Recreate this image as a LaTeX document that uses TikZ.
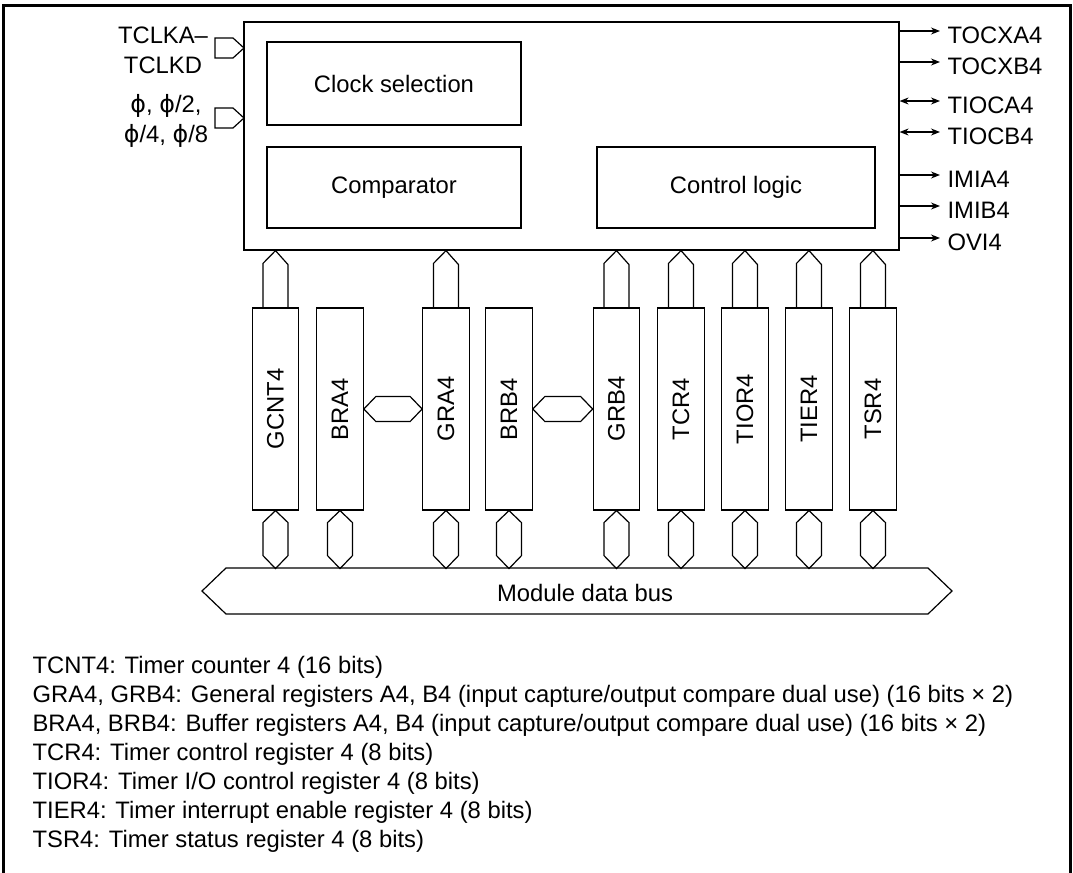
\documentclass[tikz,border=0pt]{standalone}
\usepackage{fontspec}
\usepackage{graphicx}
\setmainfont{Liberation Sans}
\newfontfamily\phifont{DejaVu Sans}
\usetikzlibrary{arrows.meta,calc}
\newcommand{\ph}{{\phifont ϕ}}

\begin{document}
\begin{tikzpicture}[x=0.5pt, y=-0.5pt, >={Stealth[length=4.5pt,width=3.5pt]}, line width=0.6pt,
    every node/.style={font=\fontsize{11.9}{15}\selectfont},
    block/.style={draw, inner sep=0pt},
    regbox/.style={draw, inner sep=0pt, minimum width=23.25pt, minimum height=101pt}]
    \useasboundingbox (0,0) rectangle (1073,873);
    % Outer frame
    \draw [line width=1.25pt] (3.5,873) -- (3.5,5.5) -- (1070.5,5.5) -- (1070.5,873);

    % Timer block
    \node [block, minimum width=327.5pt, minimum height=114pt] (main) at (571.5,136) {};
    \node [block, minimum width=127pt, minimum height=41.5pt] (clksel) at (394,83.5) {Clock selection};
    \node [block, minimum width=127pt, minimum height=40.5pt] (comp) at (394,187.5) {Comparator};
    \node [block, minimum width=139pt, minimum height=40.5pt] (ctrl) at (736,187.5) {Control logic};

    % Clock inputs
    \draw (215,38) -- (233,38) -- (244,48) -- (233,58) -- (215,58) -- cycle;
    \draw (215,108) -- (233,108) -- (244,118) -- (233,128) -- (215,128) -- cycle;
    \node [align=center] (tclk) at (163,50) {TCLKA–\\TCLKD};
    \node [align=center] (phi) at (166,121) {\ph, \ph/2,\\\ph/4, \ph/8};

    % Outputs
    \foreach \y/\t/\n in {31/TOCXA4/tocxa, 62/TOCXB4/tocxb, 175/IMIA4/imia, 206/IMIB4/imib, 238/OVI4/ovi} {
        \coordinate (e\n) at (940,\y);
        \node [anchor=west, inner sep=0pt] (\n) at ($(e\n)+(7,4)$) {\t};
        \draw [->] (main.east |- e\n) -- (e\n);
    }
    \foreach \y/\t/\n in {101/TIOCA4/tioca, 132/TIOCB4/tiocb} {
        \coordinate (e\n) at (940,\y);
        \node [anchor=west, inner sep=0pt] (\n) at ($(e\n)+(7,4)$) {\t};
        \draw [<->] (main.east |- e\n) -- (e\n);
    }

    % Registers
    \foreach \x/\n/\t in {275.5/gcnt/GCNT4, 340/bra/BRA4, 446/gra/GRA4, 509/brb/BRB4, 616.5/grb/GRB4,
                          681/tcr/TCR4, 745/tior/TIOR4, 809/tier/TIER4, 873/tsr/TSR4}
        \node [regbox] (\n) at (\x,409) {\rotatebox{90}{\t}};

    % Internal bus to timer block
    \foreach \n in {gcnt, gra, grb, tcr, tior, tier, tsr}
        \draw (\n.north) ++(-12.5,0) -- ++(0,-44) -- (\n.north |- main.south) -- ++(12.5,14) -- ++(0,44);
    % Buffer transfer
    \foreach \a/\b in {bra/gra, brb/grb}
        \draw (\a.east) -- ++(12,-12.5) -- ($(\b.west)+(-12,-12.5)$) -- (\b.west)
            -- ++(-12,12.5) -- ($(\a.east)+(12,12.5)$) -- cycle;

    % Module data bus
    \draw (202,591) -- (226,568) -- (928,568) -- (952,591) -- (928,614) -- (226,614) -- cycle;
    \node (bus) at (585,593) {Module data bus};
    \foreach \n in {gcnt, bra, gra, brb, grb, tcr, tior, tier, tsr}
        \draw (\n.south) -- ++(-12.5,12) -- ++(0,33) -- ++(12.5,13) -- ++(12.5,-13) -- ++(0,-33) -- cycle;

    % Legend
    \foreach \i/\t in {0/{TCNT4: Timer counter 4 (16 bits)},
        1/{GRA4, GRB4: General registers A4, B4 (input capture/output compare dual use) (16 bits × 2)},
        2/{BRA4, BRB4: Buffer registers A4, B4 (input capture/output compare dual use) (16 bits × 2)},
        3/{TCR4: Timer control register 4 (8 bits)},
        4/{TIOR4: Timer I/O control register 4 (8 bits)},
        5/{TIER4: Timer interrupt enable register 4 (8 bits)},
        6/{TSR4: Timer status register 4 (8 bits)}}
        \node [anchor=base west, inner sep=0pt] (note\i) at (32,673+29*\i) {\t};
\end{tikzpicture}
\end{document}
